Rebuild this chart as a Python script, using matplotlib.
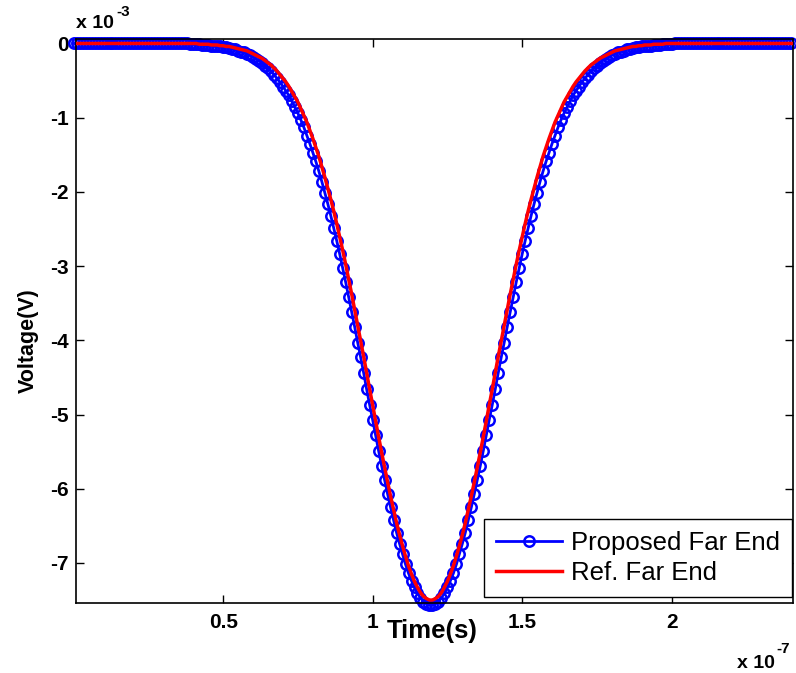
import numpy as np
import matplotlib
matplotlib.use("Agg")
import matplotlib.pyplot as plt

plt.rcParams["font.family"] = ["Liberation Sans", "DejaVu Sans"]

# sample times in ns (1 ns step, 0 .. 240 ns)
time_ns = np.arange(0, 241)

# proposed far end voltage, mV
proposed_mv = [
    0.0, 0.0, 0.0, 0.0, 0.0, 0.0, 0.0, 0.0, 0.0, 0.0,
    0.0, 0.0, 0.0, 0.0, 0.0, 0.0, 0.0, 0.0, 0.0, 0.0,
    0.0, 0.0, 0.0, 0.0, 0.0, 0.0, 0.0, 0.0, 0.0, 0.0,
    0.0, 0.0, 0.0, 0.0, 0.0, 0.0, 0.0, 0.0, 0.0,
    -0.01, -0.01, -0.01, -0.01, -0.02, -0.02, -0.02, -0.03, -0.03, -0.04, -0.04,
    -0.05, -0.05, -0.06, -0.07, -0.08, -0.10, -0.11, -0.12, -0.14, -0.16,
    -0.18, -0.21, -0.23, -0.26, -0.30, -0.33, -0.37, -0.42, -0.47, -0.52,
    -0.58, -0.64, -0.70, -0.78, -0.86, -0.94, -1.03, -1.13, -1.24, -1.35,
    -1.47, -1.59, -1.72, -1.86, -2.01, -2.16, -2.32, -2.49, -2.66, -2.84,
    -3.03, -3.22, -3.42, -3.62, -3.82, -4.03, -4.23, -4.44, -4.66, -4.87,
    -5.07, -5.28, -5.49, -5.69, -5.88, -6.07, -6.25, -6.42, -6.59, -6.74,
    -6.88, -7.02, -7.14, -7.24, -7.33, -7.41, -7.47, -7.52, -7.55, -7.57,
    -7.57, -7.55, -7.52, -7.47, -7.41, -7.33, -7.24, -7.14, -7.02, -6.88,
    -6.74, -6.59, -6.42, -6.25, -6.07, -5.88, -5.69, -5.49, -5.28, -5.07,
    -4.87, -4.66, -4.44, -4.23, -4.03, -3.82, -3.62, -3.42, -3.22, -3.03,
    -2.84, -2.66, -2.49, -2.32, -2.16, -2.01, -1.86, -1.72, -1.59, -1.47,
    -1.35, -1.24, -1.13, -1.03, -0.94, -0.86, -0.78, -0.70, -0.64, -0.58,
    -0.52, -0.47, -0.42, -0.37, -0.33, -0.30, -0.26, -0.23, -0.21, -0.18,
    -0.16, -0.14, -0.12, -0.11, -0.10, -0.08, -0.07, -0.06, -0.05, -0.05,
    -0.04, -0.04, -0.03, -0.03, -0.02, -0.02, -0.02, -0.01, -0.01, -0.01, -0.01,
    0.0, 0.0, 0.0, 0.0, 0.0, 0.0, 0.0, 0.0, 0.0, 0.0,
    0.0, 0.0, 0.0, 0.0, 0.0, 0.0, 0.0, 0.0, 0.0, 0.0,
    0.0, 0.0, 0.0, 0.0, 0.0, 0.0, 0.0, 0.0, 0.0, 0.0,
    0.0, 0.0, 0.0, 0.0, 0.0, 0.0, 0.0, 0.0, 0.0, 0.0,
]

# reference far end voltage, mV
reference_mv = [
    0.0, 0.0, 0.0, 0.0, 0.0, 0.0, 0.0, 0.0, 0.0, 0.0,
    0.0, 0.0, 0.0, 0.0, 0.0, 0.0, 0.0, 0.0, 0.0, 0.0,
    0.0, 0.0, 0.0, 0.0, 0.0, 0.0, 0.0, 0.0, 0.0, 0.0,
    0.0, 0.0, 0.0, 0.0, 0.0, 0.0, 0.0, 0.0, 0.0, 0.0,
    0.0, 0.0,
    -0.01, -0.01, -0.01, -0.01, -0.02, -0.02, -0.02, -0.03,
    -0.03, -0.04, -0.04, -0.05, -0.06, -0.07, -0.08, -0.09, -0.10, -0.12,
    -0.14, -0.16, -0.18, -0.20, -0.23, -0.26, -0.29, -0.33, -0.37, -0.42,
    -0.47, -0.52, -0.58, -0.65, -0.72, -0.79, -0.88, -0.97, -1.06, -1.17,
    -1.28, -1.40, -1.52, -1.66, -1.80, -1.95, -2.10, -2.26, -2.43, -2.61,
    -2.79, -2.98, -3.18, -3.38, -3.59, -3.80, -4.01, -4.22, -4.44, -4.66,
    -4.87, -5.09, -5.30, -5.51, -5.71, -5.91, -6.10, -6.28, -6.46, -6.62,
    -6.77, -6.91, -7.04, -7.15, -7.25, -7.33, -7.40, -7.45, -7.48, -7.50,
    -7.50, -7.48, -7.45, -7.40, -7.33, -7.25, -7.15, -7.04, -6.91, -6.77,
    -6.62, -6.46, -6.28, -6.10, -5.91, -5.71, -5.51, -5.30, -5.09, -4.87,
    -4.66, -4.44, -4.22, -4.01, -3.80, -3.59, -3.38, -3.18, -2.98, -2.79,
    -2.61, -2.43, -2.26, -2.10, -1.95, -1.80, -1.66, -1.52, -1.40, -1.28,
    -1.17, -1.06, -0.97, -0.88, -0.79, -0.72, -0.65, -0.58, -0.52, -0.47,
    -0.42, -0.37, -0.33, -0.29, -0.26, -0.23, -0.20, -0.18, -0.16, -0.14,
    -0.12, -0.10, -0.09, -0.08, -0.07, -0.06, -0.05, -0.04, -0.04, -0.03,
    -0.03, -0.02, -0.02, -0.02, -0.01, -0.01, -0.01, -0.01,
    0.0, 0.0, 0.0, 0.0, 0.0, 0.0, 0.0, 0.0, 0.0, 0.0,
    0.0, 0.0, 0.0, 0.0, 0.0, 0.0, 0.0, 0.0, 0.0, 0.0,
    0.0, 0.0, 0.0, 0.0, 0.0, 0.0, 0.0, 0.0, 0.0, 0.0,
    0.0, 0.0, 0.0, 0.0, 0.0, 0.0, 0.0, 0.0, 0.0, 0.0,
    0.0, 0.0, 0.0,
]

x_ticks = [0.5, 1, 1.5, 2]
x_tick_labels = ["0.5", "1", "1.5", "2"]
y_ticks = [0, -1, -2, -3, -4, -5, -6, -7]
y_tick_labels = ["0", "-1", "-2", "-3", "-4", "-5", "-6", "-7"]

# x in units of 1e-7 s, y in units of 1e-3 V
x = time_ns / 100.0

fig = plt.figure(figsize=(7.96, 6.73), dpi=100)
ax = fig.add_axes([0.0955, 0.104, 0.9008, 0.838])

ax.plot(x, proposed_mv, color="blue", linewidth=2, marker="o",
        markersize=7.5, markeredgewidth=1.8, markerfacecolor="none",
        clip_on=False, label="Proposed Far End", zorder=2)
ax.plot(x, reference_mv, color="red", linewidth=2.5,
        label="Ref. Far End", zorder=3)

ax.set_xlim(0.008, 2.406)
ax.set_ylim(-7.54, 0.06)

ax.set_xticks(x_ticks)
ax.set_xticklabels(x_tick_labels)
ax.set_yticks(y_ticks)
ax.set_yticklabels(y_tick_labels)

ax.tick_params(direction="in", top=True, right=True, length=6, width=1,
               labelsize=15)
ax.tick_params(axis="x", pad=7)
ax.tick_params(axis="y", pad=5)
for lbl in ax.get_xticklabels() + ax.get_yticklabels():
    lbl.set_fontweight("bold")

for sp in ax.spines.values():
    sp.set_linewidth(1.2)

ax.set_xlabel("Time(s)", fontsize=18.5, fontweight="bold")
ax.set_ylabel("Voltage(V)", fontsize=15.5, fontweight="bold")
ax.xaxis.set_label_coords(0.4965, -0.05)
ax.xaxis.label.set_va("center")
ax.yaxis.set_label_coords(-0.067, 0.466)
ax.yaxis.label.set_va("center")

# MATLAB style exponent labels
fig.text(76 / 796, 1 - 28 / 673, "x 10", fontsize=14, fontweight="bold",
         ha="left", va="baseline")
fig.text(116 / 796, 1 - 16 / 673, "-3", fontsize=11, fontweight="bold",
         ha="left", va="baseline")
fig.text(737 / 796, 1 - 668 / 673, "x 10", fontsize=14, fontweight="bold",
         ha="left", va="baseline")
fig.text(776 / 796, 1 - 653 / 673, "-7", fontsize=11, fontweight="bold",
         ha="left", va="baseline")

leg = ax.legend(loc="lower right", bbox_to_anchor=(792 / 796, 1 - 597 / 673),
                bbox_transform=fig.transFigure, borderaxespad=0,
                fontsize=18.5, fancybox=False, edgecolor="black",
                framealpha=1, handlelength=2.6, handletextpad=0.35,
                labelspacing=0.25, borderpad=0.45, numpoints=1)
leg.get_frame().set_linewidth(1.0)

fig.savefig("out.png", dpi=100)
